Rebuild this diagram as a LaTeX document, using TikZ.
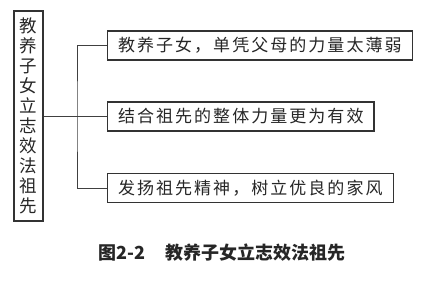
\documentclass[tikz,border=0pt]{standalone}
\usepackage{fontspec}
\setmainfont{Noto Sans CJK SC}
\newfontfamily\cajafont[LetterSpace=12]{Noto Sans CJK SC}
\newfontfamily\titulofont{Noto Sans CJK SC}
\begin{document}
\begin{tikzpicture}[x=1pt, y=-1pt,
    caja/.style={draw=black!80, line width=1.1pt, inner xsep=10.5pt,
                 minimum height=29pt, anchor=west,
                 font=\cajafont\fontsize{17}{19}\selectfont, text=black!85},
    linea/.style={draw=black!75, line width=0.9pt}]
    \useasboundingbox (0,0) rectangle (432,294);

    % Caja vertical (tema)
    \node[draw=black!80, line width=1.1pt, minimum width=29pt,
          minimum height=210pt, inner sep=0pt, align=center, text=black!85,
          font=\fontsize{17.5}{20}\selectfont] (tema) at (28.5,116)
         {教\\养\\子\\女\\立\\志\\效\\法\\祖\\先};

    % Cajas de la derecha
    \node[caja] (uno) at (107,45.5) {教养子女，单凭父母的力量太薄弱};
    \node[caja] (dos) at (107,116.5) {结合祖先的整体力量更为有效};
    \node[caja] (tres) at (107,188) {发扬祖先精神，树立优良的家风};

    % Conexiones
    \coordinate (nudo) at (77,116);
    \draw[linea] (tema.east |- nudo) -- (dos.west |- nudo);
    \draw[linea] (uno.west) -| (nudo) |- (tres.west);

    % Pie de figura
    \node[font=\titulofont\bfseries\fontsize{18}{20}\selectfont, text=black!85]
         (pie) at (222,253) {图2-2\hspace{20pt}教养子女立志效法祖先};
  \end{tikzpicture}
\end{document}
